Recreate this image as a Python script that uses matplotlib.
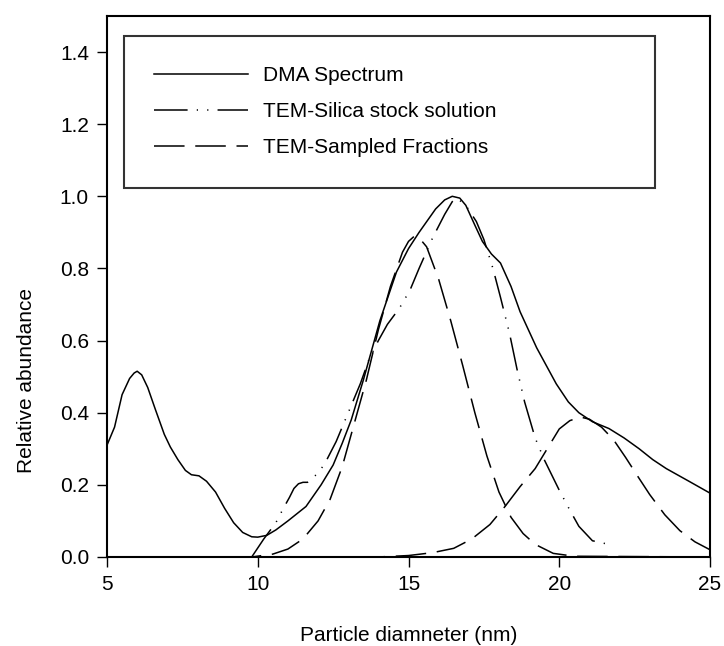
import matplotlib
matplotlib.use('Agg')
import matplotlib.pyplot as plt

plt.rcParams['font.family'] = ['Liberation Sans', 'DejaVu Sans']

# Widmo DMA (linia ciągła)
dma_x = [5.0, 5.25, 5.5, 5.75, 5.9, 6.0, 6.15, 6.35, 6.6, 6.9, 7.1, 7.35, 7.6, 7.8, 8.05,
         8.3, 8.6, 8.9, 9.2, 9.5, 9.8, 10.0, 10.3, 10.6, 11.0, 11.6, 12.1, 12.5, 12.8,
         13.1, 13.5, 14.05, 14.6, 15.0, 15.35, 15.9, 16.2, 16.45, 16.7, 16.9, 17.2, 17.45,
         17.75, 18.05, 18.4, 18.7, 19.25, 19.9, 20.3, 20.65, 21.1, 21.65, 22.15, 22.65,
         23.1, 23.55, 24.3, 25.0]
dma_y = [0.31, 0.36, 0.45, 0.495, 0.51, 0.515, 0.505, 0.47, 0.41, 0.34, 0.305, 0.27, 0.24,
         0.228, 0.225, 0.21, 0.18, 0.135, 0.095, 0.068, 0.056, 0.055, 0.06, 0.075, 0.10,
         0.14, 0.2, 0.255, 0.315, 0.38, 0.49, 0.655, 0.79, 0.855, 0.90, 0.965, 0.99, 1.0,
         0.995, 0.975, 0.92, 0.875, 0.84, 0.815, 0.75, 0.68, 0.58, 0.48, 0.43, 0.40, 0.375,
         0.356, 0.33, 0.30, 0.27, 0.245, 0.21, 0.177]

# TEM - roztwór wyjściowy krzemionki
stock_x = [9.8, 10.2, 10.6, 10.85, 11.05, 11.2, 11.35, 11.5, 11.65, 11.9, 12.2, 12.6, 13.0,
           13.4, 13.7, 14.0, 14.3, 14.7, 15.05, 15.35, 15.8, 16.2, 16.45, 16.6, 16.9, 17.25,
           17.5, 17.8, 18.05, 18.35, 18.6, 18.85, 19.2, 19.5, 20.0, 20.35, 20.65, 21.1, 21.75]
stock_y = [0.0, 0.05, 0.095, 0.135, 0.165, 0.19, 0.203, 0.207, 0.207, 0.225, 0.255, 0.32,
           0.40, 0.48, 0.55, 0.60, 0.645, 0.69, 0.74, 0.80, 0.885, 0.95, 0.985, 0.995, 0.975,
           0.93, 0.88, 0.80, 0.72, 0.62, 0.52, 0.43, 0.33, 0.27, 0.185, 0.13, 0.085, 0.045,
           0.033]

# TEM - frakcje (dwie frakcje)
frac1_x = [5.0, 9.8, 10.5, 11.0, 11.5, 12.0, 12.4, 12.8, 13.2, 13.6, 14.0, 14.4, 14.8,
           15.0, 15.2, 15.4, 15.6, 16.0, 16.4, 16.8, 17.2, 17.6, 18.0, 18.4, 18.8, 19.2,
           19.8, 20.5, 25.0]
frac1_y = [0.0, 0.0, 0.008, 0.022, 0.05, 0.1, 0.16, 0.25, 0.37, 0.49, 0.63, 0.75, 0.845,
           0.875, 0.89, 0.88, 0.86, 0.77, 0.655, 0.53, 0.40, 0.28, 0.18, 0.11, 0.065, 0.035,
           0.01, 0.002, 0.0]

frac2_x = [5.0, 14.0, 15.0, 15.8, 16.5, 17.1, 17.7, 18.2, 18.7, 19.2, 19.6, 20.0, 20.35,
           20.7, 21.0, 21.4, 21.8, 22.2, 22.6, 23.0, 23.5, 24.0, 24.5, 25.0]
frac2_y = [0.0, 0.0, 0.004, 0.012, 0.024, 0.05, 0.09, 0.14, 0.195, 0.245, 0.30, 0.355,
           0.378, 0.388, 0.382, 0.36, 0.325, 0.276, 0.224, 0.173, 0.117, 0.073, 0.042, 0.02]

x_ticks = [5, 10, 15, 20, 25]
y_ticks = [0.0, 0.2, 0.4, 0.6, 0.8, 1.0, 1.2, 1.4]

fig = plt.figure(figsize=(7.24, 6.46), dpi=100)
ax = fig.add_axes([0.1478, 0.1378, 0.8329, 0.8375])

lw = 1.1
fs = 15
ax.plot(dma_x, dma_y, color='black', lw=lw, label='DMA Spectrum')
ax.plot(stock_x, stock_y, color='black', lw=lw, dashes=(22, 6, 0.8, 6, 0.8, 6),
        label='TEM-Silica stock solution')
ax.plot(frac1_x, frac1_y, color='black', lw=lw, dashes=(20, 7), label='TEM-Sampled Fractions')
ax.plot(frac2_x, frac2_y, color='black', lw=lw, dashes=(20, 7))

ax.set_xlim(5, 25)
ax.set_ylim(0, 1.5)
ax.set_xticks(x_ticks)
ax.set_yticks(y_ticks)
ax.set_yticklabels([f'{v:.1f}' for v in y_ticks])
ax.tick_params(direction='out', length=7, width=1, labelsize=fs, pad=6,
               top=False, right=False)
for s in ax.spines.values():
    s.set_linewidth(1.5)

ax.set_xlabel('Particle diamneter (nm)', fontsize=fs, va='center')
ax.set_ylabel('Relative abundance', fontsize=fs, va='center')
ax.xaxis.set_label_coords(0.5, -0.146)
ax.yaxis.set_label_coords(-0.134, 0.327)

leg = ax.legend(loc='upper left', bbox_to_anchor=(0.028, 0.684, 0.881, 0.279),
                mode='expand', borderaxespad=0, fontsize=fs, handlelength=4.5,
                handletextpad=0.75, labelspacing=0.82, borderpad=1.45,
                fancybox=False, frameon=True)
leg.get_frame().set_edgecolor('black')
leg.get_frame().set_linewidth(1.5)

plt.savefig('out.png', dpi=100)
